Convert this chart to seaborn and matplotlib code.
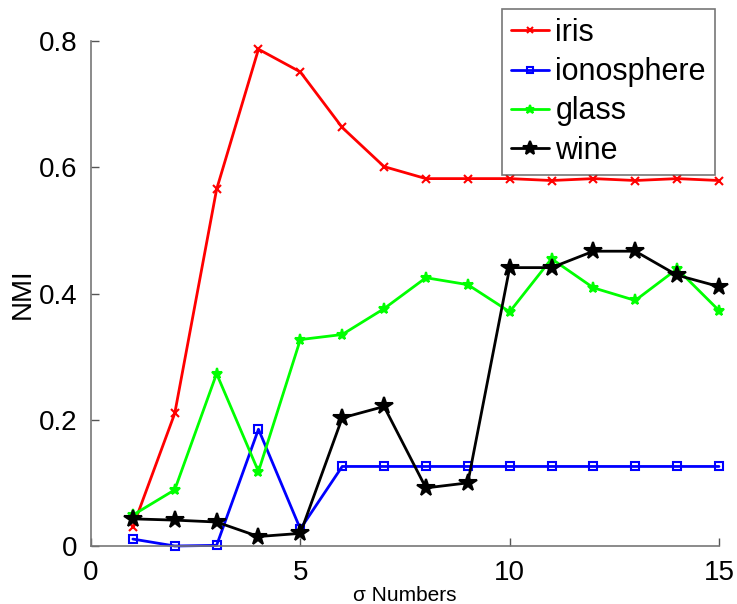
import numpy as np
import pandas as pd
import matplotlib
matplotlib.use("Agg")
import matplotlib.pyplot as plt
import seaborn as sns

sigma = list(range(1, 16))
iris = [0.030, 0.210, 0.565, 0.787, 0.751, 0.663, 0.601, 0.582, 0.582, 0.582, 0.579, 0.582, 0.579, 0.582, 0.579]
ionosphere = [0.011, 0.000, 0.001, 0.185, 0.027, 0.126, 0.126, 0.126, 0.126, 0.126, 0.126, 0.126, 0.126, 0.126, 0.126]
glass = [0.049, 0.089, 0.273, 0.118, 0.327, 0.335, 0.376, 0.425, 0.414, 0.371, 0.455, 0.409, 0.389, 0.439, 0.373]
wine = [0.043, 0.041, 0.038, 0.015, 0.020, 0.203, 0.221, 0.092, 0.100, 0.441, 0.441, 0.467, 0.467, 0.429, 0.411]

series_names = ["iris", "ionosphere", "glass", "wine"]
colors = ["#ff0000", "#0000ff", "#00ff00", "#000000"]
markers = ["x", "s", "*", "*"]
msizes = [6, 6, 8, 13]

df = pd.DataFrame({"sigma": sigma, "iris": iris, "ionosphere": ionosphere,
                   "glass": glass, "wine": wine})
long = df.melt(id_vars="sigma", var_name="dataset", value_name="NMI")

sns.set_style("white")
plt.rcParams["font.family"] = ["Liberation Sans", "DejaVu Sans"]
plt.rcParams["text.color"] = "black"
plt.rcParams["axes.labelcolor"] = "black"
plt.rcParams["xtick.color"] = "black"
plt.rcParams["ytick.color"] = "black"
plt.rcParams["xtick.direction"] = "in"
plt.rcParams["ytick.direction"] = "in"

fig = plt.figure(figsize=(7.37, 6.04), dpi=100)
ax = fig.add_axes([91/737, 1-546/604, (719-91)/737, (546-41)/604])

for name, c, m, ms in zip(series_names, colors, markers, msizes):
    sub = long[long["dataset"] == name]
    sns.lineplot(data=sub, x="sigma", y="NMI", ax=ax, color=c, marker=m,
                 markersize=ms, linewidth=2, label=name,
                 markeredgecolor=c, markerfacecolor=(c if m == "*" else "none"),
                 markeredgewidth=1.5, clip_on=False)

ax.set_xlim(0, 15)
ax.set_ylim(0, 0.8)
ax.set_xticks([0, 5, 10, 15])
ax.set_xticklabels(["0", "5", "10", "15"])
ax.set_yticks([0, 0.2, 0.4, 0.6, 0.8])
ax.set_yticklabels(["0", "0.2", "0.4", "0.6", "0.8"])
ax.tick_params(axis="both", direction="in", length=6, width=1, color="#555555",
               labelsize=20, pad=10, bottom=True, left=True,
               labelcolor="black")
for s in ["top", "right"]:
    ax.spines[s].set_visible(False)
for s in ["left", "bottom"]:
    ax.spines[s].set_color("#777777")
    ax.spines[s].set_linewidth(1.2)

ax.set_xlabel("σ Numbers", fontsize=15, labelpad=0, color="black")
ax.set_ylabel("NMI", fontsize=20, labelpad=2, color="black")

leg = ax.legend(loc="upper left", bbox_to_anchor=(502/737, 1-9/604),
                bbox_transform=fig.transFigure, fontsize=22, frameon=True,
                fancybox=False, handlelength=1.25, handletextpad=0.2,
                borderpad=0.3, labelspacing=0.3, borderaxespad=0,
                markerscale=0.8)
leg.get_frame().set_edgecolor("#555555")
leg.get_frame().set_linewidth(1.2)
for t in leg.get_texts():
    t.set_color("black")

fig.savefig("out.png", dpi=100)
